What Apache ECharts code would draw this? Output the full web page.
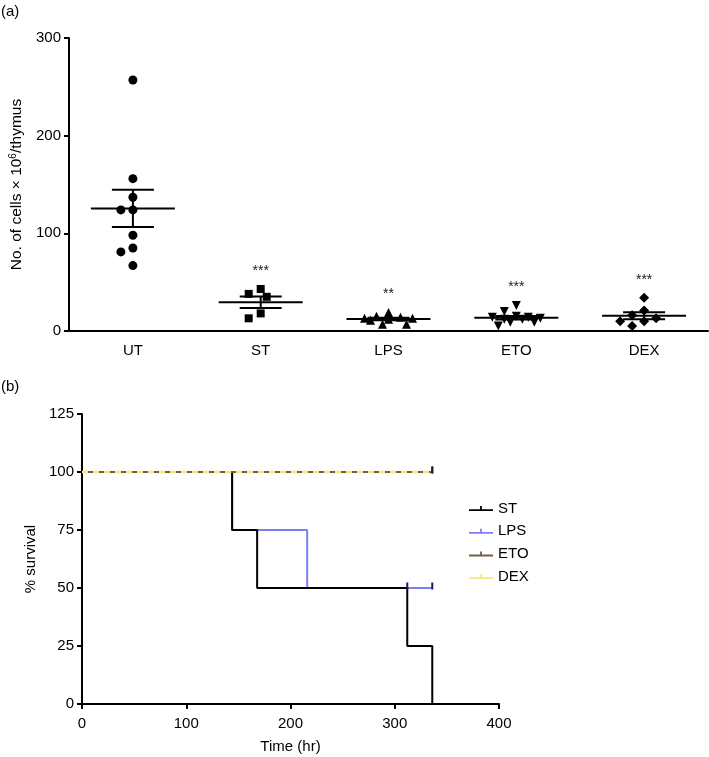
<!DOCTYPE html>
<html><head><meta charset="utf-8">
<script src="https://cdn.jsdelivr.net/npm/echarts@6/dist/echarts.min.js"></script>
<style>html,body{margin:0;padding:0;background:#fff}#c{width:709px;height:757px}</style>
</head><body><div id="c"></div>
<script>
// ---- panel (a) data ----
const groups = ['UT', 'ST', 'LPS', 'ETO', 'DEX'];
const utValues = [257, 156, 137, 124, 124, 98, 85, 81, 67];
const stValues = [43, 38, 35, 18, 13];
const lpsValues = [19, 15, 14, 13, 13, 12, 11, 7, 7];
const etoValues = [26, 20, 15, 14, 14, 13, 12, 12, 9, 9, 5];
const dexValues = [34, 21, 16, 13, 10, 10, 5];
const sigStars = ['', '***', '**', '***', '***'];
const cellTicks = [0, 100, 200, 300];

// ---- panel (b) data ----
const survivalTicks = [0, 25, 50, 75, 100, 125];
const timeTicks = [0, 100, 200, 300, 400];
const survivalNames = ['ST', 'LPS', 'ETO', 'DEX'];
const stSurvival = [[0, 100], [144, 75], [168, 50], [312, 25], [336, 0]];
const lpsSurvival = [[0, 100], [144, 75], [216, 50], [336, 50]];
const etoSurvival = [[0, 100], [336, 100]];
const dexSurvival = [[0, 100], [336, 100]];
const stCensor = [];
const lpsCensor = [[312, 50], [336, 50]];
const etoCensor = [[336, 100]];
const dexCensor = [[336, 100]];

const FONT = "'Liberation Sans', Arial, sans-serif";
const groupValues = [utValues, stValues, lpsValues, etoValues, dexValues];
const groupSymbols = ['circle', 'rect', 'triangle', 'path://M0,0 L10,0 L5,9 Z', 'diamond'];
const groupSizes = [9, 8, 9, 9, 10];

function mean(a) { return a.reduce((s, v) => s + v, 0) / a.length; }
function sem(a) {
  const m = mean(a);
  const v = a.reduce((s, x) => s + (x - m) * (x - m), 0) / (a.length - 1);
  return Math.sqrt(v) / Math.sqrt(a.length);
}
const stats = groupValues.map((a, i) => [i, mean(a), sem(a), Math.max.apply(null, a)]);

const survColors = { ST: '#000000', LPS: '#7f7ff2', ETO: '#6e6040', DEX: '#f2ea7e' };

function scatterSeries(offsets) {
  return groupValues.map((vals, gi) => ({
    id: 'pts' + gi,
    type: 'scatter',
    xAxisIndex: 0, yAxisIndex: 0,
    symbol: groupSymbols[gi],
    symbolSize: groupSizes[gi],
    itemStyle: { color: '#000', opacity: 1 },
    z: 3,
    data: vals.map((v, k) => ({ value: [gi, v], symbolOffset: [offsets ? offsets[gi][k] : 0, 0] }))
  }));
}

const legendIcon = 'path://M0,5.2h24v1.8h-24z M11.1,2h1.8v3.4h-1.8z';

const option = {
  animation: false,
  textStyle: { fontFamily: FONT, color: '#000' },
  graphic: [
    { type: 'text', left: 1, top: 4, style: { text: '(a)', font: '15px ' + FONT, fill: '#000' } },
    { type: 'text', left: 1, top: 379, style: { text: '(b)', font: '15px ' + FONT, fill: '#000' } }
  ],
  grid: [
    { left: 68, right: 1, top: 38, bottom: 757 - 331 },
    { left: 82, right: 709 - 499, top: 414, bottom: 757 - 704 }
  ],
  xAxis: [
    {
      gridIndex: 0, type: 'category', data: groups,
      axisLine: { lineStyle: { color: '#000', width: 2 } },
      axisTick: { alignWithLabel: true, length: 5, lineStyle: { color: '#000', width: 2 } },
      axisLabel: { color: '#000', fontSize: 15, margin: 12, fontFamily: FONT }
    },
    {
      gridIndex: 1, type: 'value', min: timeTicks[0], max: timeTicks[timeTicks.length - 1], interval: 100,
      name: 'Time (hr)', nameLocation: 'middle', nameGap: 35,
      nameTextStyle: { fontSize: 15, color: '#000', fontFamily: FONT },
      splitLine: { show: false },
      axisLine: { lineStyle: { color: '#000', width: 2 } },
      axisTick: { length: 5, lineStyle: { color: '#000', width: 2 } },
      axisLabel: { color: '#000', fontSize: 15, margin: 12, fontFamily: FONT }
    }
  ],
  yAxis: [
    {
      gridIndex: 0, type: 'value', min: cellTicks[0], max: cellTicks[cellTicks.length - 1], interval: 100,
      name: 'No. of cells \u00d7 10{sup|6}/thymus', nameLocation: 'middle', nameGap: 44,
      nameTextStyle: { fontSize: 15.5, color: '#000', fontFamily: FONT,
        rich: { sup: { fontSize: 10, verticalAlign: 'top', padding: [0, 0, 7, 0], fontFamily: FONT, color: '#000' } } },
      splitLine: { show: false },
      axisLine: { show: true, lineStyle: { color: '#000', width: 2 } },
      axisTick: { show: true, length: 5, lineStyle: { color: '#000', width: 2 } },
      axisLabel: { color: '#000', fontSize: 15, margin: 8, fontFamily: FONT }
    },
    {
      gridIndex: 1, type: 'value', min: survivalTicks[0], max: survivalTicks[survivalTicks.length - 1], interval: 25,
      name: '% survival', nameLocation: 'middle', nameGap: 38,
      nameTextStyle: { fontSize: 15, color: '#000', fontFamily: FONT },
      splitLine: { show: false },
      axisLine: { show: true, lineStyle: { color: '#000', width: 2 } },
      axisTick: { show: true, length: 5, lineStyle: { color: '#000', width: 2 } },
      axisLabel: { color: '#000', fontSize: 15, margin: 8, fontFamily: FONT }
    }
  ],
  legend: {
    data: survivalNames.map(n => ({ name: n, icon: legendIcon })),
    orient: 'vertical', left: 464, top: 496,
    itemWidth: 24, itemHeight: 7, itemGap: 7.7,
    textStyle: { fontSize: 15, color: '#000', fontFamily: FONT },
    selectedMode: false
  },
  series: [
    ...scatterSeries(null),
    {
      id: 'bars', type: 'custom', xAxisIndex: 0, yAxisIndex: 0, z: 4,
      data: stats,
      renderItem: function (params, api) {
        const i = api.value(0), m = api.value(1), s = api.value(2), mx = api.value(3);
        const c = api.coord([i, m]);
        const t = api.coord([i, m + s]);
        const b = api.coord([i, m - s]);
        const p = api.coord([i, mx]);
        const st = { stroke: '#000', lineWidth: 2 };
        const children = [
          { type: 'line', shape: { x1: c[0] - 42, y1: c[1], x2: c[0] + 42, y2: c[1] }, style: st },
          { type: 'line', shape: { x1: c[0], y1: t[1], x2: c[0], y2: b[1] }, style: st },
          { type: 'line', shape: { x1: c[0] - 21, y1: t[1], x2: c[0] + 21, y2: t[1] }, style: st },
          { type: 'line', shape: { x1: c[0] - 21, y1: b[1], x2: c[0] + 21, y2: b[1] }, style: st }
        ];
        const star = sigStars[params.dataIndex];
        if (star) {
          children.push({ type: 'text', style: { text: star, x: c[0], y: p[1] - 18, align: 'center', verticalAlign: 'middle', font: '14px ' + FONT, fill: '#222' } });
        }
        return { type: 'group', children: children };
      }
    },
    {
      name: 'LPS', type: 'line', xAxisIndex: 1, yAxisIndex: 1, step: 'end', symbol: 'none', z: 2,
      color: survColors.LPS, lineStyle: { width: 2, color: survColors.LPS }, data: lpsSurvival
    },
    {
      name: 'ETO', type: 'line', xAxisIndex: 1, yAxisIndex: 1, step: 'end', symbol: 'none', z: 5,
      color: survColors.ETO, lineStyle: { width: 2, color: survColors.ETO }, data: etoSurvival
    },
    {
      name: 'DEX', type: 'line', xAxisIndex: 1, yAxisIndex: 1, step: 'end', symbol: 'none', z: 6,
      color: survColors.DEX, lineStyle: { width: 2.5, color: survColors.DEX, type: [6, 5] }, data: dexSurvival
    },
    {
      name: 'ST', type: 'line', xAxisIndex: 1, yAxisIndex: 1, step: 'end', symbol: 'none', z: 4,
      color: survColors.ST, lineStyle: { width: 2, color: survColors.ST }, data: stSurvival
    },
    ...[['ST', stCensor], ['LPS', lpsCensor], ['ETO', etoCensor], ['DEX', dexCensor]].map(([n, d]) => ({
      name: n + ' censored', type: 'scatter', xAxisIndex: 1, yAxisIndex: 1, z: 7,
      symbol: 'rect', symbolSize: [2, 7], symbolOffset: [0, -2],
      itemStyle: { color: n === 'LPS' ? '#1a1a60' : '#222', opacity: 1 }, data: d
    }))
  ]
};

const chart = echarts.init(document.getElementById('c'), null, { renderer: 'canvas' });
chart.setOption(option);

// beeswarm-style horizontal spreading of overlapping points (computed from the y scale)
const pA = chart.convertToPixel({ gridIndex: 0 }, [0, 0]);
const pB = chart.convertToPixel({ gridIndex: 0 }, [0, 100]);
const pxPerUnit = (pA[1] - pB[1]) / 100;
const offsets = groupValues.map((vals, gi) => {
  const size = groupSizes[gi];
  const step = 6;
  const order = vals.map((v, k) => k).sort((a, b) => vals[b] - vals[a]);
  const placed = [];
  const out = new Array(vals.length).fill(0);
  const cands = [0];
  for (let n = 1; n <= 4; n++) { cands.push(-n * step, n * step); }
  order.forEach(k => {
    const y = vals[k] * pxPerUnit;
    let best = null, bestScore = -1;
    for (const off of cands) {
      let minD = Infinity;
      for (const p of placed) {
        const d = Math.hypot(off - p[0], y - p[1]);
        if (d < minD) minD = d;
      }
      if (minD >= size) { best = off; break; }
      if (minD > bestScore) { bestScore = minD; best = off; }
    }
    placed.push([best, y]);
    out[k] = best;
  });
  return out;
});
chart.setOption({ series: scatterSeries(offsets) });
</script>
</body></html>
